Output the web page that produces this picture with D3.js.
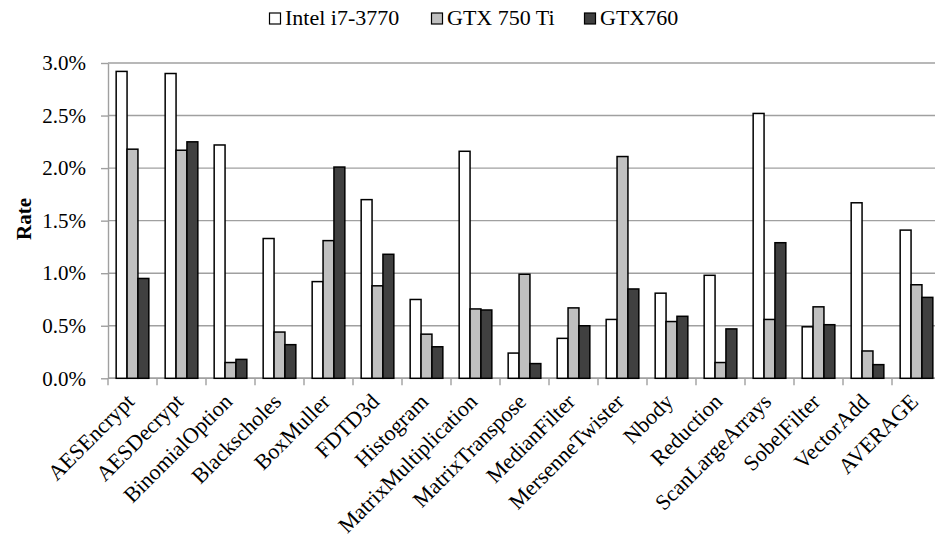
<!DOCTYPE html>
<html>
<head>
<meta charset="utf-8">
<script src="https://cdn.jsdelivr.net/npm/d3@7"></script>
<style>
  html, body { margin: 0; padding: 0; background: #fff; }
  svg { display: block; }
</style>
</head>
<body>
<svg id="chart" width="935" height="544"></svg>
<script>
// Benchmarks on the x axis
const categories = ["AESEncrypt", "AESDecrypt", "BinomialOption", "Blackscholes", "BoxMuller",
  "FDTD3d", "Histogram", "MatrixMultiplication", "MatrixTranspose", "MedianFilter",
  "MersenneTwister", "Nbody", "Reduction", "ScanLargeArrays", "SobelFilter", "VectorAdd", "AVERAGE"];

// Device names (legend order)
const seriesNames = ["Intel i7-3770", "GTX 750 Ti", "GTX760"];
const seriesColors = ["#ffffff", "#c0c0c0", "#404040"];

// Rates in percent, one array per device
const intelRate  = [2.92, 2.90, 2.22, 1.33, 0.92, 1.70, 0.75, 2.16, 0.24, 0.38, 0.56, 0.81, 0.98, 2.52, 0.49, 1.67, 1.41];
const gtx750Rate = [2.18, 2.17, 0.15, 0.44, 1.31, 0.88, 0.42, 0.66, 0.99, 0.67, 2.11, 0.54, 0.15, 0.56, 0.68, 0.26, 0.89];
const gtx760Rate = [0.95, 2.25, 0.18, 0.32, 2.01, 1.18, 0.30, 0.65, 0.14, 0.50, 0.85, 0.59, 0.47, 1.29, 0.51, 0.13, 0.77];

const yTicks = [0, 0.5, 1.0, 1.5, 2.0, 2.5, 3.0];

const seriesValues = [intelRate, gtx750Rate, gtx760Rate];
const FONT = "'Liberation Serif', 'Times New Roman', Times, 'DejaVu Serif', serif";

const svg = d3.select("#chart").attr("font-family", FONT);
const plot = { left: 108, top: 63, bottom: 378.3, band: 49 };

const x = d3.scaleBand()
  .domain(categories)
  .range([plot.left, plot.left + plot.band * categories.length])
  .paddingInner(0).paddingOuter(0);

// Excel-style 150% gap width: each group takes 3 of 4.5 bar widths
const bw = x.bandwidth();
const xs = d3.scaleBand()
  .domain(d3.range(seriesNames.length))
  .range([bw * 0.75 / 4.5, bw * 3.75 / 4.5])
  .padding(0);

const y = d3.scaleLinear().domain([0, 3.0]).range([plot.bottom, plot.top]);

// Horizontal gridlines
svg.append("g")
  .selectAll("line")
  .data(yTicks)
  .join("line")
  .attr("x1", plot.left)
  .attr("x2", 935)
  .attr("y1", d => y(d))
  .attr("y2", d => y(d))
  .attr("stroke", "#a0a0a0")
  .attr("stroke-width", 1.4);

// Y axis
const yAxis = svg.append("g")
  .attr("transform", `translate(${plot.left},0)`)
  .call(d3.axisLeft(y).tickValues(yTicks).tickFormat(d => d.toFixed(1) + "%").tickSize(7).tickSizeOuter(0).tickPadding(15));
yAxis.attr("font-family", FONT).attr("font-size", 21);
yAxis.select(".domain").attr("stroke", "#a0a0a0").attr("stroke-width", 1.4);
yAxis.selectAll(".tick line").attr("stroke", "#a0a0a0").attr("stroke-width", 1.4);
yAxis.selectAll(".tick text").attr("fill", "#000");

// X axis with ticks between categories
const boundaries = d3.range(categories.length + 1).map(i => plot.left + i * bw);
svg.append("line")
  .attr("x1", plot.left).attr("x2", 935)
  .attr("y1", plot.bottom).attr("y2", plot.bottom)
  .attr("stroke", "#a0a0a0").attr("stroke-width", 1.4);
svg.append("g")
  .selectAll("line")
  .data(boundaries)
  .join("line")
  .attr("x1", d => d).attr("x2", d => d)
  .attr("y1", plot.bottom).attr("y2", plot.bottom + 7)
  .attr("stroke", "#a0a0a0").attr("stroke-width", 1.4);

// Bars
const groups = svg.append("g")
  .selectAll("g")
  .data(categories)
  .join("g")
  .attr("transform", d => `translate(${x(d)},0)`);

groups.selectAll("rect")
  .data((c, i) => seriesValues.map((vals, s) => ({ s, v: vals[i] })))
  .join("rect")
  .attr("x", d => xs(d.s))
  .attr("width", xs.bandwidth())
  .attr("y", d => y(d.v))
  .attr("height", d => y(0) - y(d.v))
  .attr("fill", d => seriesColors[d.s])
  .attr("stroke", "#000")
  .attr("stroke-width", 1.5);

// Rotated category labels
svg.append("g")
  .attr("font-size", 22)
  .selectAll("text")
  .data(categories)
  .join("text")
  .attr("transform", d => `translate(${x(d) + bw / 2 + 3},403) rotate(-45)`)
  .attr("text-anchor", "end")
  .text(d => d);

// Y axis title
svg.append("text")
  .attr("transform", "translate(31,219) rotate(-90)")
  .attr("text-anchor", "middle")
  .attr("font-size", 21)
  .attr("font-weight", "bold")
  .text("Rate");

// Legend
const legendX = [269, 431, 584];
const legend = svg.append("g")
  .selectAll("g")
  .data(seriesNames)
  .join("g")
  .attr("transform", (d, i) => `translate(${legendX[i]},0)`);
legend.append("rect")
  .attr("x", 0.5).attr("y", 13)
  .attr("width", 11).attr("height", 11)
  .attr("fill", (d, i) => seriesColors[i])
  .attr("stroke", "#000").attr("stroke-width", 1.2);
legend.append("text")
  .attr("x", 16).attr("y", 25)
  .attr("font-size", 22)
  .text(d => d);
</script>
</body>
</html>
